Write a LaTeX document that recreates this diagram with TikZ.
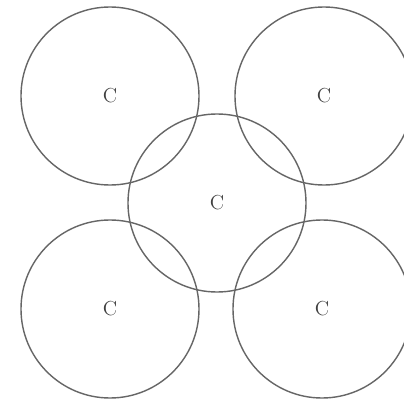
\documentclass[tikz,border=0pt]{standalone}
\usetikzlibrary{positioning}

\tikzset{
  ring/.style={circle, draw=black!60, line width=1pt, inner sep=0pt,
    minimum size=\RingDiam cm, font=\Large, text=black!75},
}

\begin{document}
\begin{tikzpicture}[x=0.025cm, y=-0.025cm]

% ---------- Parameters of the drawing ----------
\def\RingRadius{89}      % Radius of every circle (in px)
\def\PxToCm{0.025}       % Size of one px in cm
\pgfmathsetmacro{\RingDiam}{2*\RingRadius*\PxToCm}

% Frame of the picture
\useasboundingbox (0,0) rectangle (404,402);

% ---------- Middle circle ----------
\node[ring] (mid) at (217,203) {C};

% ---------- Corner circles ----------
\foreach \name/\x/\y in {topleft/110/96, topright/324/96, botleft/110/309, botright/322/309}{
  \node[ring] (\name) at (\x,\y) {C};
}

\end{tikzpicture}
\end{document}
